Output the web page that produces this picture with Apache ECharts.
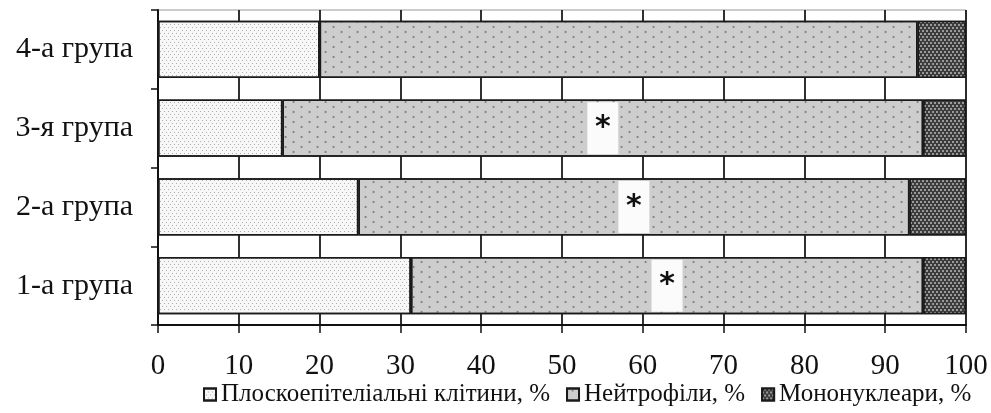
<!DOCTYPE html>
<html><head><meta charset="utf-8">
<script src="https://cdn.jsdelivr.net/npm/echarts@6/dist/echarts.min.js"></script>
<style>html,body{margin:0;padding:0;background:#fff}#c{width:991px;height:413px}</style>
</head><body><div id="c"></div>
<script>
const categories = ['1-а група', '2-а група', '3-я група', '4-а група'];
const squamous = [31.3, 24.8, 15.4, 20.0];
const neutrophils = [63.4, 68.2, 79.3, 74.0];
const mononuclears = [5.3, 7.0, 5.3, 6.0];
const significant = [true, true, true, false];
const seriesNames = ['Плоскоепітеліальні клітини, %', 'Нейтрофіли, %', 'Мононуклеари, %'];
const xTicks = [0, 10, 20, 30, 40, 50, 60, 70, 80, 90, 100];

const font = '"Liberation Serif", "DejaVu Serif", serif';
const chart = echarts.init(document.getElementById('c'), null, {renderer: 'canvas'});
const border = {borderColor: '#1a1a1a', borderWidth: 1.5};
chart.setOption({
  animation: false,
  grid: {left: 158, right: 25, top: 10, bottom: 88, show: true, borderColor: '#999', borderWidth: 1},
  legend: {
    bottom: 1, left: 198, itemWidth: 12, itemHeight: 12, itemGap: 16,
    textStyle: {fontFamily: font, fontSize: 25, color: '#111'},
    data: seriesNames.map(n => ({name: n, icon: 'rect'}))
  },
  xAxis: {
    type: 'value', min: 0, max: 100, interval: 10,
    axisLine: {show: true, lineStyle: {color: '#111', width: 2}},
    axisTick: {show: true, length: 8, lineStyle: {color: '#111', width: 1.5}},
    axisLabel: {fontFamily: font, fontSize: 29, color: '#111', margin: 27,
      formatter: v => xTicks.includes(v) ? String(v) : ''},
    splitLine: {show: true, lineStyle: {color: '#1a1a1a', width: 1.8}}
  },
  yAxis: {
    type: 'category', data: categories,
    axisLine: {show: true, lineStyle: {color: '#111', width: 2}},
    axisTick: {show: true, length: 7, lineStyle: {color: '#111', width: 1.5}},
    axisLabel: {fontFamily: font, fontSize: 30, color: '#111', margin: 25},
    splitLine: {show: false}
  },
  series: [
    {
      name: seriesNames[0], type: 'bar', stack: 'a', barCategoryGap: '27%',
      data: squamous,
      itemStyle: Object.assign({color: '#f7f7f7',
        decal: {symbol: 'rect', symbolSize: 1, color: '#b0b0b0', dashArrayX: [[1, 3], [0, 2, 1, 1]], dashArrayY: [1, 2]}}, border)
    },
    {
      name: seriesNames[1], type: 'bar', stack: 'a',
      data: neutrophils.map((v, i) => ({
        value: v,
        label: significant[i] ? {
          show: true, position: 'inside', formatter: '*',
          fontFamily: '"DejaVu Sans", sans-serif', fontWeight: 'bold', fontSize: 30, color: '#111',
          backgroundColor: '#fbfbfb', width: 31, height: 52, lineHeight: 62, align: 'center', verticalAlign: 'middle'
        } : {show: false}
      })),
      itemStyle: Object.assign({color: '#cdcdcd',
        decal: {symbol: 'triangle', symbolSize: 0.6, rotation: Math.PI / 2, color: '#707070', dashArrayX: [[4, 6], [0, 5, 4, 1]], dashArrayY: [4, 4]}}, border)
    },
    {
      name: seriesNames[2], type: 'bar', stack: 'a',
      data: mononuclears,
      itemStyle: Object.assign({color: '#3c3c3c',
        decal: {symbol: 'rect', symbolSize: 1, color: '#9a9a9a', dashArrayX: [[2, 2], [0, 2, 2, 0]], dashArrayY: [2, 1]}}, border)
    }
  ]
});
</script></body></html>
